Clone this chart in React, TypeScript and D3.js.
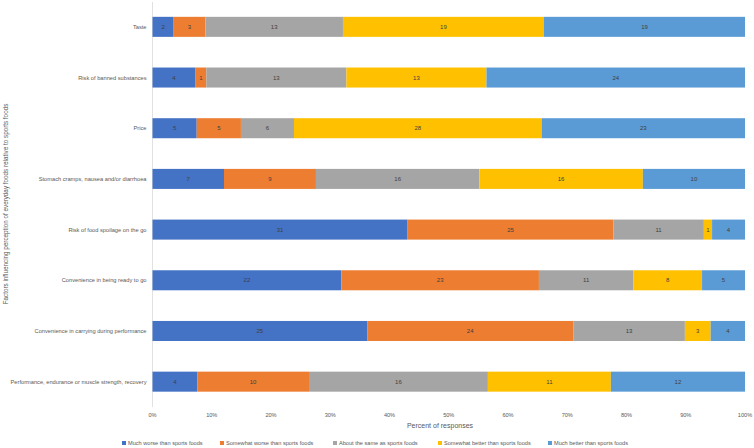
import React from 'react';
import * as d3 from 'd3';

const categories = [
    'Taste',
    'Risk of banned substances',
    'Price',
    'Stomach cramps, nausea and/or diarrhoea',
    'Risk of food spoilage on the go',
    'Convenience in being ready to go',
    'Convenience in carrying during performance',
    'Performance, endurance or muscle strength, recovery',
];

const seriesNames = [
    'Much worse than sports foods',
    'Somewhat worse than sports foods',
    'About the same as sports foods',
    'Somewhat better than sports foods',
    'Much better than sports foods',
];

const muchWorse = [2, 4, 5, 7, 31, 22, 25, 4];
const somewhatWorse = [3, 1, 5, 9, 25, 23, 24, 10];
const aboutSame = [13, 13, 6, 16, 11, 11, 13, 16];
const somewhatBetter = [19, 13, 28, 16, 1, 8, 3, 11];
const muchBetter = [19, 24, 23, 10, 4, 5, 4, 12];

const xTicks = [0, 0.1, 0.2, 0.3, 0.4, 0.5, 0.6, 0.7, 0.8, 0.9, 1];

const colors = ['#4472C4', '#ED7D31', '#A5A5A5', '#FFC000', '#5B9BD5'];

const W = 754;
const H = 448;
const FONT = '"Liberation Sans", Arial, sans-serif';

export default function App() {
    const series = [muchWorse, somewhatWorse, aboutSame, somewhatBetter, muchBetter];

    // one row per category with the counts of each answer
    const rows = categories.map((c, i) => {
        const row: Record<string, number | string> = { category: c };
        seriesNames.forEach((s, j) => { row[s] = series[j][i]; });
        return row;
    });

    const stacked = d3.stack<Record<string, number | string>>()
        .keys(seriesNames)
        .value((d, key) => d[key] as number)
        .offset(d3.stackOffsetExpand)(rows);

    const x = d3.scaleLinear().domain([0, 1]).range([152.5, 745]);
    const y = d3.scaleBand<string>()
        .domain(categories)
        .range([1.5, 407])
        .paddingInner(0.605)
        .paddingOuter(0.3025);

    const fmt = d3.format('.0%');

    const legendX = [122, 220, 333, 438, 548];

    return (
        <div style={{ position: 'fixed', left: 0, top: 0 }}>
            <svg width={W} height={H} style={{ display: 'block', background: '#fff' }} fontFamily={FONT}>
                {/* category axis line */}
                <line x1={x(0)} x2={x(0)} y1={2} y2={407} stroke="#D9D9D9" strokeWidth={0.8} />

                {stacked.map((layer, j) => (
                    <g key={layer.key}>
                        {layer.map((d, i) => {
                            const x0 = x(d[0]);
                            const x1 = x(d[1]);
                            const yy = y(categories[i])!;
                            const v = series[j][i];
                            return (
                                <g key={i}>
                                    <rect x={x0} y={yy} width={x1 - x0} height={y.bandwidth()} fill={colors[j]} />
                                    <text
                                        x={(x0 + x1) / 2}
                                        y={yy + y.bandwidth() / 2}
                                        dy="0.35em"
                                        textAnchor="middle"
                                        fontSize={6}
                                        fill="#404040"
                                    >{v}</text>
                                </g>
                            );
                        })}
                    </g>
                ))}

                {/* category labels */}
                {categories.map(c => (
                    <text
                        key={c}
                        x={146.5}
                        y={y(c)! + y.bandwidth() / 2}
                        dy="0.35em"
                        textAnchor="end"
                        fontSize={5.7}
                        fill="#595959"
                    >{c}</text>
                ))}

                {/* x ticks */}
                {xTicks.map(t => (
                    <text key={t} x={x(t)} y={415} dy="0.35em" textAnchor="middle" fontSize={5.6} fill="#595959">
                        {fmt(t)}
                    </text>
                ))}

                <text x={440} y={425.5} dy="0.35em" textAnchor="middle" fontSize={7} fill="#595959">
                    Percent of responses
                </text>

                <text
                    transform={`translate(5.5, 204) rotate(-90)`}
                    textAnchor="middle"
                    dy="0.35em"
                    fontSize={6.3}
                    fill="#595959"
                >Factors influencing perception of everyday foods relative to sports foods</text>

                {/* legend */}
                {seriesNames.map((s, j) => (
                    <g key={s} transform={`translate(${legendX[j]}, 443)`}>
                        <rect x={0} y={-2} width={4} height={4} fill={colors[j]} />
                        <text x={6} y={0} dy="0.35em" fontSize={5.6} fill="#595959">{s}</text>
                    </g>
                ))}
            </svg>
        </div>
    );
}
